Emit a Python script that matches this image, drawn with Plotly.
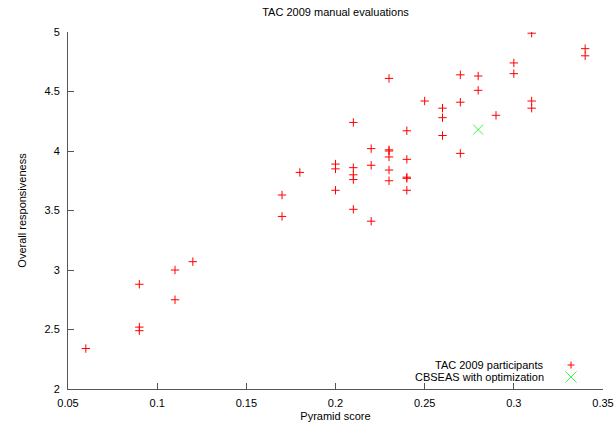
import plotly.graph_objects as go

# TAC 2009 participants
part_x = [0.06, 0.09, 0.09, 0.09, 0.11, 0.11, 0.12,
          0.17, 0.17, 0.18,
          0.20, 0.20, 0.20,
          0.21, 0.21, 0.21, 0.21, 0.21,
          0.22, 0.22, 0.22,
          0.23, 0.23, 0.23, 0.23, 0.23, 0.23,
          0.24, 0.24, 0.24, 0.24, 0.24,
          0.25,
          0.26, 0.26, 0.26,
          0.27, 0.27, 0.27,
          0.28, 0.28,
          0.29,
          0.30, 0.30,
          0.31, 0.31, 0.31,
          0.34, 0.34]
part_y = [2.34, 2.88, 2.52, 2.49, 3.00, 2.75, 3.07,
          3.63, 3.45, 3.82,
          3.89, 3.85, 3.67,
          4.24, 3.86, 3.80, 3.76, 3.51,
          4.02, 3.88, 3.41,
          4.61, 4.01, 4.00, 3.95, 3.84, 3.75,
          4.17, 3.93, 3.78, 3.77, 3.67,
          4.42,
          4.36, 4.28, 4.13,
          4.64, 4.41, 3.98,
          4.63, 4.51,
          4.30,
          4.74, 4.65,
          4.99, 4.42, 4.36,
          4.86, 4.80]

# CBSEAS with optimization
cbs_x = [0.28]
cbs_y = [4.18]

x_ticks = [0.05, 0.1, 0.15, 0.2, 0.25, 0.3, 0.35]
x_labels = ["0.05", "0.1", "0.15", "0.2", "0.25", "0.3", "0.35"]
y_ticks = [2, 2.5, 3, 3.5, 4, 4.5, 5]
y_labels = ["2", "2.5", "3", "3.5", "4", "4.5", "5"]

names = ["TAC 2009 participants", "CBSEAS with optimization"]
colors = ["red", "#44ee44"]

FONT = "Liberation Sans, Arial, sans-serif"

fig = go.Figure()
fig.add_trace(go.Scatter(
    x=part_x, y=part_y, mode="markers", name=names[0], showlegend=False,
    marker=dict(symbol="cross-thin", size=6, color=colors[0],
                line=dict(color=colors[0], width=1)),
))
fig.add_trace(go.Scatter(
    x=cbs_x, y=cbs_y, mode="markers", name=names[1], showlegend=False,
    marker=dict(symbol="x-thin", size=10, color=colors[1],
                line=dict(color=colors[1], width=1)),
))

axis_common = dict(
    showgrid=False, zeroline=False, showline=True, linecolor="#555555",
    linewidth=1, ticks="inside", ticklen=6, tickcolor="#555555",
    tickfont=dict(family=FONT, size=11, color="black"),
    mirror=False,
)

fig.update_layout(
    width=615, height=427,
    margin=dict(l=68, r=12, t=32, b=38, autoexpand=False),
    paper_bgcolor="white", plot_bgcolor="white",
    title=dict(text="TAC 2009 manual evaluations", xref="paper", x=0.5,
               xanchor="center", y=0.972, yanchor="middle",
               font=dict(family=FONT, size=11, color="black")),
    xaxis=dict(range=[0.05, 0.35], tickvals=x_ticks, ticktext=x_labels,
               ticklabelstandoff=4,
               title=dict(text="Pyramid score", standoff=4,
                          font=dict(family=FONT, size=11, color="black")),
               **axis_common),
    yaxis=dict(range=[2, 5], tickvals=y_ticks, ticktext=y_labels,
               ticklabelstandoff=5,
               title=dict(text="Overall responsiveness", standoff=15,
                          font=dict(family=FONT, size=11, color="black")),
               **axis_common),
    showlegend=False,
)

# Gnuplot-style key: right-justified label followed by the sample symbol
key_text_x = 0.8935
key_sym_x = 0.9402
key_rows_y = [0.0672, 0.0336]
for i, nm in enumerate(names):
    fig.add_annotation(text=nm, xref="paper", yref="paper",
                       x=key_text_x, y=key_rows_y[i], xanchor="right",
                       yanchor="middle", showarrow=False,
                       font=dict(family=FONT, size=11, color="black"))

# red "+" key sample
hx, hy = 3.5 / 535, 3.5 / 357
cy = key_rows_y[0]
fig.add_shape(type="line", xref="paper", yref="paper",
              x0=key_sym_x - hx, x1=key_sym_x + hx, y0=cy, y1=cy,
              line=dict(color=colors[0], width=1))
fig.add_shape(type="line", xref="paper", yref="paper",
              x0=key_sym_x, x1=key_sym_x, y0=cy - hy, y1=cy + hy,
              line=dict(color=colors[0], width=1))
# green "x" key sample
hx, hy = 5.5 / 535, 5.5 / 357
cy = key_rows_y[1]
fig.add_shape(type="line", xref="paper", yref="paper",
              x0=key_sym_x - hx, x1=key_sym_x + hx, y0=cy - hy, y1=cy + hy,
              line=dict(color=colors[1], width=1))
fig.add_shape(type="line", xref="paper", yref="paper",
              x0=key_sym_x - hx, x1=key_sym_x + hx, y0=cy + hy, y1=cy - hy,
              line=dict(color=colors[1], width=1))

fig.write_html("out.html")
